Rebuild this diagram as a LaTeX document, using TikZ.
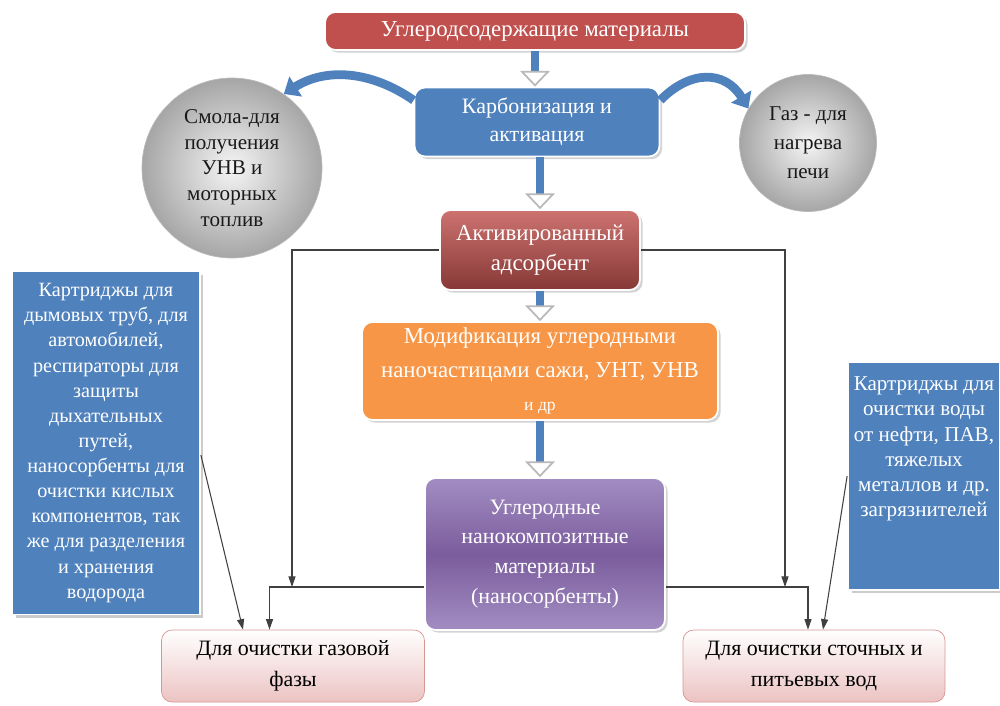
\documentclass[tikz,border=0pt]{standalone}
\usepackage{fontspec}
\setmainfont{Liberation Serif}
\usetikzlibrary{arrows.meta,shadows}

\definecolor{redbox}{HTML}{C0504D}
\definecolor{bluebox}{HTML}{4F81BD}
\definecolor{orangebox}{HTML}{F79646}
\definecolor{purptop}{HTML}{A28DC2}
\definecolor{purpmid}{HTML}{7B5C9D}
\definecolor{pinkedge}{HTML}{D99594}
\definecolor{pinkfill}{HTML}{EBC3C2}

\tikzset{
  box/.style={rounded corners=6pt, align=center, text=white, inner sep=0pt,
    draw=white, line width=1pt,
    drop shadow={shadow xshift=1.5pt, shadow yshift=-1.5pt, opacity=0.35}},
  ball/.style={circle, shading=radial, inner color=gray!8, outer color=gray!70,
    draw=gray!55, inner sep=0pt, align=center, text=black!90},
  note/.style={fill=bluebox, draw=white, line width=1pt, text=white, inner sep=0pt,
    drop shadow={shadow xshift=2pt, shadow yshift=-2pt, opacity=0.4}},
  result/.style={rounded corners=6pt, draw=pinkedge, top color=white,
    bottom color=pinkfill, inner sep=0pt, align=center},
  flow/.style={line width=4pt, draw=bluebox,
    -{Triangle[open, color=gray!55, length=9pt, width=17pt, line width=1pt]}},
  sidearrow/.style={line width=5pt, draw=bluebox, -{Triangle[length=8pt, width=13pt]}},
  feed/.style={draw=black!75, line width=0.6pt, -{Triangle[length=6pt, width=4pt]}}
}

\begin{document}
\begin{tikzpicture}[x=0.02cm,y=-0.02cm]

\useasboundingbox (0,0) rectangle (1000,706);

\node[box, fill=redbox, minimum width=8.4cm, minimum height=0.76cm,
  font=\fontsize{13}{16}\selectfont] (source) at (535,31) {Углеродсодержащие материалы};

\node[box, fill=bluebox, minimum width=4.9cm, minimum height=1.38cm,
  font=\fontsize{12.5}{16}\selectfont] (carb) at (537,122) {Карбонизация и\\активация};

\node[ball, minimum size=3.6cm, font=\fontsize{12}{14.7}\selectfont] (resin) at (232,168)
  {Смола-для\\получения\\УНВ и\\моторных\\топлив};

\node[ball, minimum size=2.74cm, font=\fontsize{12}{16.5}\selectfont] (gas) at (808,143)
  {Газ - для\\нагрева\\печи};

\node[box, top color=redbox!80!white, bottom color=redbox!70!black, minimum width=4cm,
  minimum height=1.6cm, font=\fontsize{13}{17}\selectfont] (ads) at (540,250)
  {Активированный\\адсорбент};

\node[box, fill=orangebox, minimum width=7.12cm, minimum height=1.96cm,
  font=\fontsize{13}{19}\selectfont] (modif) at (540,371)
  {Модификация углеродными\\наночастицами сажи, УНТ, УНВ\\{\fontsize{10}{10}\selectfont и др}};

\node[box, top color=purptop, bottom color=purptop, middle color=purpmid,
  minimum width=4.8cm, minimum height=3.04cm, font=\fontsize{12.5}{17}\selectfont] (nano) at (545,554)
  {Углеродные\\нанокомпозитные\\материалы\\(наносорбенты)};

\node[note, minimum width=3.76cm, minimum height=6.86cm, align=center,
  font=\fontsize{11.5}{14.3}\selectfont] (lnote) at (106,443)
  {Картриджы для\\дымовых труб, для\\автомобилей,\\респираторы для\\защиты\\дыхательных\\путей,\\
  наносорбенты для\\очистки кислых\\компонентов, так\\же для разделения\\и хранения\\водорода};

\node[note, minimum width=3.04cm, minimum height=4.56cm, inner ysep=0.3cm,
  font=\fontsize{12}{14.3}\selectfont] (rnote) at (924,476)
  {\parbox[t][3.96cm][t]{2.9cm}{\centering Картриджы для\\очистки воды\\от нефти, ПАВ,\\тяжелых\\металлов и др.\\загрязнителей}};

\node[result, minimum width=5.26cm, minimum height=1.44cm,
  font=\fontsize{12.5}{17.5}\selectfont] (gasph) at (293,666)
  {Для очистки газовой\\фазы};

\node[result, minimum width=5.24cm, minimum height=1.44cm,
  font=\fontsize{12.5}{17.5}\selectfont] (water) at (814,666)
  {Для очистки сточных и\\питьевых вод};

\coordinate (gashub) at (292,587);
\coordinate (waterhub) at (785,587);

\draw[flow] (source.south) -- (source.south |- carb.north);
\draw[flow] (ads.north |- carb.south) -- (ads.north);
\draw[flow] (ads.south) -- (ads.south |- modif.north);
\draw[flow] (modif.south) -- (modif.south |- nano.north);

\draw[sidearrow] (carb.170) .. controls (370,70) and (325,68) .. (resin.55);
\draw[sidearrow] (carb.10) .. controls (690,70) and (725,70) .. (gas.150);

\draw[feed] (ads.west) -| (gashub);
\draw[feed] (ads.east) -| (waterhub);
\draw[feed] (nano.west |- gashub) -| ([xshift=-0.47cm]gasph.north);
\draw[feed] (nano.east |- waterhub) -| ([xshift=-0.12cm]water.north);
\draw[feed] ([yshift=-0.24cm]lnote.east) -- ([xshift=-1cm]gasph.north);
\draw[feed] (rnote.west) -- ([xshift=0.18cm]water.north);

\end{tikzpicture}
\end{document}
